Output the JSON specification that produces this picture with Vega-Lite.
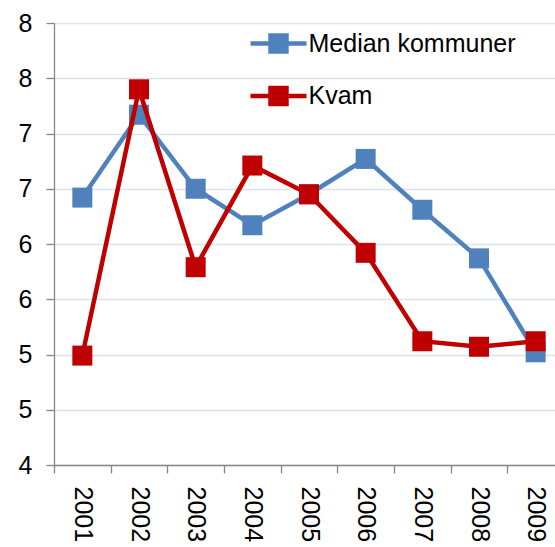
{
  "$schema": "https://vega.github.io/schema/vega-lite/v6.json",
  "autosize": {"type": "none"},
  "width": 510,
  "height": 442,
  "padding": {"left": 54, "top": 23, "right": 0, "bottom": 82},
  "background": "white",
  "config": {
    "view": {"stroke": null},
    "font": "Liberation Sans",
    "axis": {
      "labelFont": "Liberation Sans",
      "labelFontSize": 25,
      "labelColor": "#000000",
      "domainColor": "#868686",
      "domainWidth": 1.3,
      "tickColor": "#868686",
      "tickWidth": 1.3,
      "tickSize": 8,
      "title": null
    }
  },
  "data": {
    "values": [
      {"year": "2001", "series": "Median kommuner", "value": 6.42},
      {"year": "2002", "series": "Median kommuner", "value": 7.17},
      {"year": "2003", "series": "Median kommuner", "value": 6.50},
      {"year": "2004", "series": "Median kommuner", "value": 6.17},
      {"year": "2005", "series": "Median kommuner", "value": 6.45},
      {"year": "2006", "series": "Median kommuner", "value": 6.77},
      {"year": "2007", "series": "Median kommuner", "value": 6.31},
      {"year": "2008", "series": "Median kommuner", "value": 5.87},
      {"year": "2009", "series": "Median kommuner", "value": 5.02},
      {"year": "2001", "series": "Kvam", "value": 4.99},
      {"year": "2002", "series": "Kvam", "value": 7.40},
      {"year": "2003", "series": "Kvam", "value": 5.79},
      {"year": "2004", "series": "Kvam", "value": 6.71},
      {"year": "2005", "series": "Kvam", "value": 6.45},
      {"year": "2006", "series": "Kvam", "value": 5.92},
      {"year": "2007", "series": "Kvam", "value": 5.12},
      {"year": "2008", "series": "Kvam", "value": 5.07},
      {"year": "2009", "series": "Kvam", "value": 5.12}
    ]
  },
  "encoding": {
    "x": {
      "field": "year",
      "type": "ordinal",
      "bandPosition": 0.5,
      "scale": {"type": "band", "paddingInner": 0, "paddingOuter": 0},
      "axis": {
        "tickBand": "extent",
        "labelAngle": 90,
        "labelAlign": "left",
        "labelBaseline": "middle",
        "labelPadding": 13,
        "grid": false
      }
    },
    "y": {
      "field": "value",
      "type": "quantitative",
      "scale": {"domain": [4, 8], "nice": false, "zero": false},
      "axis": {
        "values": [4, 4.5, 5, 5.5, 6, 6.5, 7, 7.5, 8],
        "format": ".0f",
        "labelPadding": 14,
        "grid": true,
        "gridColor": "#d9e3f0",
        "gridWidth": 1.3
      }
    },
    "color": {
      "field": "series",
      "type": "nominal",
      "scale": {"domain": ["Median kommuner", "Kvam"], "range": ["#4f81bd", "#c00000"]},
      "legend": {
        "orient": "none",
        "legendX": 207,
        "legendY": 3,
        "title": null,
        "padding": 0,
        "symbolType": "M-1.867,0H1.867M-0.533,-0.533H0.533V0.533H-0.533Z",
        "symbolSize": 900,
        "symbolStrokeWidth": 4.5,
        "labelFont": "Liberation Sans",
        "labelFontSize": 25,
        "labelColor": "#000000",
        "labelOffset": 12.5,
        "labelLimit": 400,
        "rowPadding": 17.5,
        "encode": {
          "symbols": {
            "update": {
              "fill": {"scale": "color", "field": "value"},
              "stroke": {"scale": "color", "field": "value"},
              "fillOpacity": {"value": 1},
              "strokeOpacity": {"value": 1}
            }
          }
        }
      }
    }
  },
  "layer": [
    {
      "transform": [{"filter": "datum.series == 'Median kommuner'"}],
      "mark": {"type": "line", "strokeWidth": 4.5, "point": {"shape": "square", "size": 400, "filled": true, "opacity": 1}}
    },
    {
      "transform": [{"filter": "datum.series == 'Kvam'"}],
      "mark": {"type": "line", "strokeWidth": 4.5, "point": {"shape": "square", "size": 400, "filled": true, "opacity": 1}}
    }
  ]
}
